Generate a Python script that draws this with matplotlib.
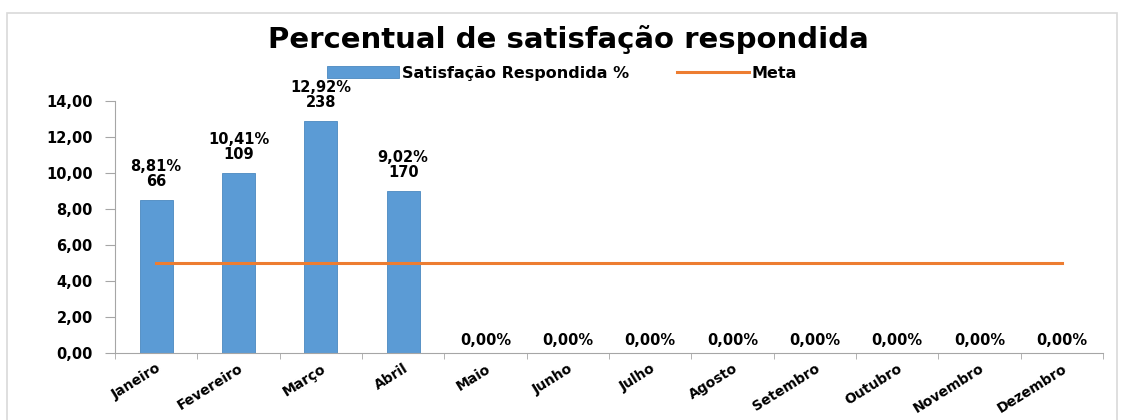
import matplotlib.pyplot as plt
from matplotlib.patches import Rectangle
import numpy as np

meses = ['Janeiro', 'Fevereiro', 'Março', 'Abril', 'Maio', 'Junho', 'Julho',
         'Agosto', 'Setembro', 'Outubro', 'Novembro', 'Dezembro']
satisfacao = [8.5, 10.0, 12.9, 9.0, 0, 0, 0, 0, 0, 0, 0, 0]
rotulos_pct = ['8,81%', '10,41%', '12,92%', '9,02%'] + ['0,00%'] * 8
respondidas = ['66', '109', '238', '170'] + [''] * 8
meta = [5.0] * 12

azul = '#5B9BD5'
laranja = '#ED7D31'

plt.rcParams['font.family'] = 'DejaVu Sans'
plt.rcParams['font.weight'] = 'bold'

fig = plt.figure(figsize=(11.24, 4.2), dpi=100)
fig.patches.append(Rectangle((0.006, -0.05), 0.988, 1.02, transform=fig.transFigure,
                             fill=False, edgecolor='#D9D9D9', linewidth=1.2))
ax = fig.add_axes([0.1023, 0.1595, 0.879, 0.6])

x = np.arange(len(meses))
bars = ax.bar(x, satisfacao, width=0.4, color=azul, edgecolor='#4A88C0', linewidth=0.6,
              label='Satisfação Respondida %', zorder=2)
linha, = ax.plot(x, meta, color=laranja, linewidth=2.2, label='Meta', zorder=3)

for xi, v, p, r in zip(x, satisfacao, rotulos_pct, respondidas):
    if r == '':
        ax.text(xi, v + 0.3, p, ha='center', va='bottom', fontsize=10.5,
                fontweight='bold')
    else:
        ax.text(xi, v + 0.6, p + '\n' + r, ha='center', va='bottom', fontsize=10.5,
                fontweight='bold', linespacing=1.0)

ax.set_xlim(-0.5, 11.5)
ax.set_ylim(0, 14)
ax.set_yticks(np.arange(0, 15, 2))
ax.set_yticklabels([f'{v:.2f}'.replace('.', ',') for v in np.arange(0, 15, 2)],
                   fontsize=10.5, fontweight='bold')
ax.set_xticks(x)
ax.set_xticklabels(meses, rotation=32, ha='right', rotation_mode='anchor',
                   fontsize=10, fontweight='bold')
ax.set_xticks(np.arange(-0.5, 12, 1), minor=True)
ax.tick_params(axis='x', which='major', length=0, pad=6)
ax.tick_params(axis='x', which='minor', length=4, color='#A6A6A6')
ax.tick_params(axis='y', length=7, color='#A6A6A6', pad=9)

for s in ['top', 'right']:
    ax.spines[s].set_visible(False)
for s in ['left', 'bottom']:
    ax.spines[s].set_color('#A6A6A6')

fig.text(0.506, 0.905, 'Percentual de satisfação respondida', ha='center', va='center',
         fontsize=21, fontweight='bold')
fig.legend(handles=[bars, linha], loc='center', bbox_to_anchor=(0.5, 0.826), ncol=2,
           frameon=False, handlelength=4.5, columnspacing=3, handletextpad=0.2,
           prop={'weight': 'bold', 'size': 11.5})

fig.savefig('out.png', dpi=100)
